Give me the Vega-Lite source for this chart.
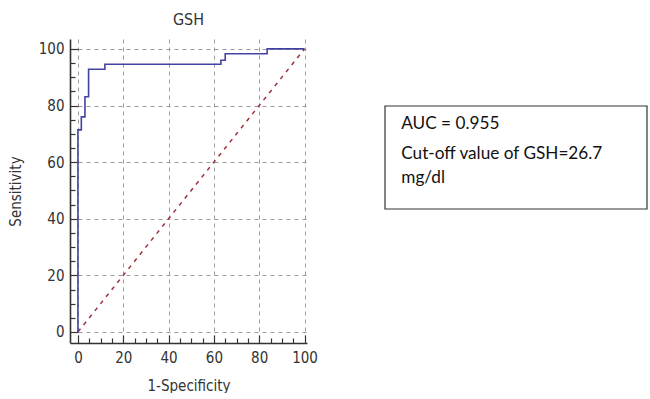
{
  "$schema": "https://vega.github.io/schema/vega-lite/v6.json",
  "padding": {"left": 8, "top": 12, "right": 0, "bottom": 0},
  "background": "white",
  "spacing": 66,
  "config": {
    "view": {"stroke": null},
    "axis": {
      "domainColor": "#333333",
      "domainWidth": 1.6,
      "tickColor": "#333333",
      "tickWidth": 1.2,
      "gridColor": "#9a9a9a",
      "gridDash": [4, 4],
      "gridWidth": 1,
      "labelFont": "DejaVu Sans Condensed",
      "labelFontSize": 15,
      "labelColor": "#333333",
      "titleFont": "DejaVu Sans Condensed",
      "titleFontSize": 15,
      "titleFontWeight": "normal",
      "titleColor": "#333333"
    }
  },
  "hconcat": [
    {
      "width": 237,
      "height": 304,
      "title": {"text": "GSH", "font": "DejaVu Sans Condensed", "fontSize": 16, "fontWeight": "normal", "color": "#333333", "offset": 11},
      "layer": [
        {
          "data": {"values": [{"fpr": 0, "tpr": 0}, {"fpr": 100, "tpr": 100}]},
          "mark": {"type": "line", "color": "#a0303a", "strokeWidth": 1.5, "strokeDash": [4, 5], "clip": false},
          "encoding": {
            "x": {"field": "fpr", "type": "quantitative"},
            "y": {"field": "tpr", "type": "quantitative"}
          }
        },
        {
          "data": {"values": [
            {"fpr": 0, "tpr": 0},
            {"fpr": 0, "tpr": 71.4},
            {"fpr": 1.5, "tpr": 76},
            {"fpr": 3.1, "tpr": 83.1},
            {"fpr": 4.7, "tpr": 92.8},
            {"fpr": 11.9, "tpr": 94.6},
            {"fpr": 63.1, "tpr": 96.0},
            {"fpr": 65.0, "tpr": 98.3},
            {"fpr": 83.5, "tpr": 100},
            {"fpr": 100, "tpr": 100}
          ]},
          "mark": {"type": "line", "interpolate": "step-after", "color": "#4343a3", "strokeWidth": 1.6, "clip": false},
          "encoding": {
            "x": {"field": "fpr", "type": "quantitative"},
            "y": {"field": "tpr", "type": "quantitative"}
          }
        }
      ],
      "encoding": {
        "x": {
          "field": "fpr", "type": "quantitative",
          "scale": {"domain": [-3.5, 101.1], "nice": false, "zero": false},
          "axis": {
            "title": "1-Specificity",
            "values": [0,5,10,15,20,25,30,35,40,45,50,55,60,65,70,75,80,85,90,95,100],
            "labelExpr": "datum.value % 20 === 0 ? datum.label : ''",
            "tickSize": {"condition": {"test": "datum.value % 20 === 0", "value": -8}, "value": -5},
            "gridOpacity": {"condition": {"test": "datum.value % 20 === 0", "value": 1}, "value": 0},
            "labelPadding": 15,
            "titlePadding": 10,
            "labelFlush": false,
            "labelOverlap": false
          }
        },
        "y": {
          "field": "tpr", "type": "quantitative",
          "scale": {"domain": [-3.9, 103.5], "nice": false, "zero": false},
          "axis": {
            "title": "Sensitivity",
            "values": [0,5,10,15,20,25,30,35,40,45,50,55,60,65,70,75,80,85,90,95,100],
            "labelExpr": "datum.value % 20 === 0 ? datum.label : ''",
            "tickSize": {"condition": {"test": "datum.value % 20 === 0", "value": -8}, "value": -5},
            "gridOpacity": {"condition": {"test": "datum.value % 20 === 0", "value": 1}, "value": 0},
            "labelPadding": 14,
            "titlePadding": 15,
            "labelFlush": false,
            "labelOverlap": false
          }
        }
      }
    },
    {
      "width": 262,
      "height": 200,
      "layer": [
        {
          "data": {"values": [{"x": 0, "x2": 1, "y": 0.335, "y2": 0.85}]},
          "mark": {"type": "rect", "fill": "white", "stroke": "#333333", "strokeWidth": 1.2},
          "encoding": {
            "x": {"field": "x", "type": "quantitative", "scale": {"domain": [0, 1], "nice": false}, "axis": null},
            "x2": {"field": "x2"},
            "y": {"field": "y", "type": "quantitative", "scale": {"domain": [0, 1], "nice": false, "reverse": true}, "axis": null},
            "y2": {"field": "y2"}
          }
        },
        {
          "data": {"values": [
            {"t": "AUC = 0.955", "x": 0.062, "y": 0.452},
            {"t": "Cut-off value of GSH=26.7", "x": 0.062, "y": 0.6},
            {"t": "mg/dl", "x": 0.062, "y": 0.722}
          ]},
          "mark": {"type": "text", "align": "left", "baseline": "alphabetic", "font": "Lato", "fontSize": 17.2, "color": "#111111"},
          "encoding": {
            "x": {"field": "x", "type": "quantitative", "scale": {"domain": [0, 1], "nice": false}, "axis": null},
            "y": {"field": "y", "type": "quantitative", "scale": {"domain": [0, 1], "nice": false, "reverse": true}, "axis": null},
            "text": {"field": "t"}
          }
        }
      ]
    }
  ]
}
